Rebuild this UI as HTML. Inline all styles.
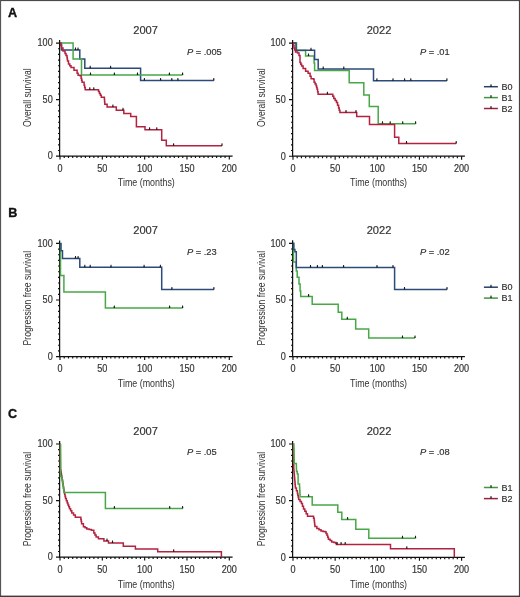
<!DOCTYPE html>
<html><head><meta charset="utf-8"><style>
html,body{margin:0;padding:0;background:#fff;}
body{width:520px;height:597px;overflow:hidden;position:relative;}
svg{position:absolute;left:0;top:0;will-change:transform;}
text{font-family:"Liberation Sans",sans-serif;fill:#333333;stroke:#333333;stroke-width:0.18px;}
.tk{font-size:10.0px;}
.ti{font-size:11.1px;}
.pv{font-size:9.3px;}
.al{font-size:10.5px;stroke:none;}
.lg{font-size:9px;}
.lt{font-size:12.6px;font-weight:bold;fill:#111;stroke:#111;stroke-width:0.35px;}
</style></head><body>
<svg width="520" height="597" viewBox="0 0 520 597">
<rect x="0" y="0" width="520" height="597" fill="#fff"/><rect x="0" y="0" width="520" height="1.1" fill="#4a4a4a"/><rect x="0" y="0" width="1.1" height="597" fill="#555"/><rect x="518.9" y="0" width="1.1" height="597" fill="#444"/><rect x="0" y="595.6" width="520" height="1.4" fill="#3c3c3c"/>
<path d="M59.60 40.10V156.10H232.60" fill="none" stroke="#111111" stroke-width="1.25"/>
<path d="M56.00 156.10H60.00M58.00 150.45H60.00M58.00 144.80H60.00M58.00 139.15H60.00M58.00 133.50H60.00M58.00 127.85H60.00M58.00 122.20H60.00M58.00 116.55H60.00M58.00 110.90H60.00M58.00 105.25H60.00M56.00 99.60H60.00M58.00 93.95H60.00M58.00 88.30H60.00M58.00 82.65H60.00M58.00 77.00H60.00M58.00 71.35H60.00M58.00 65.70H60.00M58.00 60.05H60.00M58.00 54.40H60.00M58.00 48.75H60.00M56.00 43.10H60.00M60.00 156.10V159.60M64.23 156.10V158.10M68.47 156.10V158.10M72.70 156.10V158.10M76.93 156.10V158.10M81.16 156.10V158.10M85.39 156.10V158.10M89.63 156.10V158.10M93.86 156.10V158.10M98.09 156.10V158.10M102.33 156.10V159.60M106.56 156.10V158.10M110.79 156.10V158.10M115.02 156.10V158.10M119.25 156.10V158.10M123.49 156.10V158.10M127.72 156.10V158.10M131.95 156.10V158.10M136.19 156.10V158.10M140.42 156.10V158.10M144.65 156.10V159.60M148.88 156.10V158.10M153.12 156.10V158.10M157.35 156.10V158.10M161.58 156.10V158.10M165.81 156.10V158.10M170.05 156.10V158.10M174.28 156.10V158.10M178.51 156.10V158.10M182.74 156.10V158.10M186.98 156.10V159.60M191.21 156.10V158.10M195.44 156.10V158.10M199.67 156.10V158.10M203.91 156.10V158.10M208.14 156.10V158.10M212.37 156.10V158.10M216.60 156.10V158.10M220.84 156.10V158.10M225.07 156.10V158.10M229.30 156.10V159.60" fill="none" stroke="#111111" stroke-width="1.15"/>
<text x="52.70" y="46.40" text-anchor="end" textLength="15.15" lengthAdjust="spacingAndGlyphs" class="tk">100</text>
<text x="52.70" y="102.90" text-anchor="end" textLength="10.10" lengthAdjust="spacingAndGlyphs" class="tk">50</text>
<text x="52.70" y="159.40" text-anchor="end" textLength="5.05" lengthAdjust="spacingAndGlyphs" class="tk">0</text>
<text x="60.00" y="171.50" text-anchor="middle" textLength="5.05" lengthAdjust="spacingAndGlyphs" class="tk">0</text>
<text x="102.33" y="171.50" text-anchor="middle" textLength="10.10" lengthAdjust="spacingAndGlyphs" class="tk">50</text>
<text x="144.65" y="171.50" text-anchor="middle" textLength="15.15" lengthAdjust="spacingAndGlyphs" class="tk">100</text>
<text x="186.98" y="171.50" text-anchor="middle" textLength="15.15" lengthAdjust="spacingAndGlyphs" class="tk">150</text>
<text x="229.30" y="171.50" text-anchor="middle" textLength="15.15" lengthAdjust="spacingAndGlyphs" class="tk">200</text>
<path d="M292.60 40.10V156.20H464.90" fill="none" stroke="#111111" stroke-width="1.25"/>
<path d="M289.00 156.20H293.00M291.00 150.54H293.00M291.00 144.89H293.00M291.00 139.23H293.00M291.00 133.58H293.00M291.00 127.92H293.00M291.00 122.27H293.00M291.00 116.61H293.00M291.00 110.96H293.00M291.00 105.30H293.00M289.00 99.65H293.00M291.00 93.99H293.00M291.00 88.34H293.00M291.00 82.68H293.00M291.00 77.03H293.00M291.00 71.37H293.00M291.00 65.72H293.00M291.00 60.06H293.00M291.00 54.41H293.00M291.00 48.75H293.00M289.00 43.10H293.00M293.00 156.20V159.70M297.21 156.20V158.20M301.43 156.20V158.20M305.64 156.20V158.20M309.86 156.20V158.20M314.07 156.20V158.20M318.29 156.20V158.20M322.50 156.20V158.20M326.72 156.20V158.20M330.94 156.20V158.20M335.15 156.20V159.70M339.37 156.20V158.20M343.58 156.20V158.20M347.80 156.20V158.20M352.01 156.20V158.20M356.23 156.20V158.20M360.44 156.20V158.20M364.65 156.20V158.20M368.87 156.20V158.20M373.09 156.20V158.20M377.30 156.20V159.70M381.51 156.20V158.20M385.73 156.20V158.20M389.94 156.20V158.20M394.16 156.20V158.20M398.38 156.20V158.20M402.59 156.20V158.20M406.81 156.20V158.20M411.02 156.20V158.20M415.24 156.20V158.20M419.45 156.20V159.70M423.67 156.20V158.20M427.88 156.20V158.20M432.10 156.20V158.20M436.31 156.20V158.20M440.52 156.20V158.20M444.74 156.20V158.20M448.96 156.20V158.20M453.17 156.20V158.20M457.38 156.20V158.20M461.60 156.20V159.70" fill="none" stroke="#111111" stroke-width="1.15"/>
<text x="285.70" y="46.40" text-anchor="end" textLength="15.15" lengthAdjust="spacingAndGlyphs" class="tk">100</text>
<text x="285.70" y="102.95" text-anchor="end" textLength="10.10" lengthAdjust="spacingAndGlyphs" class="tk">50</text>
<text x="285.70" y="159.50" text-anchor="end" textLength="5.05" lengthAdjust="spacingAndGlyphs" class="tk">0</text>
<text x="293.00" y="171.60" text-anchor="middle" textLength="5.05" lengthAdjust="spacingAndGlyphs" class="tk">0</text>
<text x="335.15" y="171.60" text-anchor="middle" textLength="10.10" lengthAdjust="spacingAndGlyphs" class="tk">50</text>
<text x="377.30" y="171.60" text-anchor="middle" textLength="15.15" lengthAdjust="spacingAndGlyphs" class="tk">100</text>
<text x="419.45" y="171.60" text-anchor="middle" textLength="15.15" lengthAdjust="spacingAndGlyphs" class="tk">150</text>
<text x="461.60" y="171.60" text-anchor="middle" textLength="15.15" lengthAdjust="spacingAndGlyphs" class="tk">200</text>
<path d="M59.60 240.40V356.60H232.60" fill="none" stroke="#111111" stroke-width="1.25"/>
<path d="M56.00 356.60H60.00M58.00 350.94H60.00M58.00 345.28H60.00M58.00 339.62H60.00M58.00 333.96H60.00M58.00 328.30H60.00M58.00 322.64H60.00M58.00 316.98H60.00M58.00 311.32H60.00M58.00 305.66H60.00M56.00 300.00H60.00M58.00 294.34H60.00M58.00 288.68H60.00M58.00 283.02H60.00M58.00 277.36H60.00M58.00 271.70H60.00M58.00 266.04H60.00M58.00 260.38H60.00M58.00 254.72H60.00M58.00 249.06H60.00M56.00 243.40H60.00M60.00 356.60V360.10M64.23 356.60V358.60M68.47 356.60V358.60M72.70 356.60V358.60M76.93 356.60V358.60M81.16 356.60V358.60M85.39 356.60V358.60M89.63 356.60V358.60M93.86 356.60V358.60M98.09 356.60V358.60M102.33 356.60V360.10M106.56 356.60V358.60M110.79 356.60V358.60M115.02 356.60V358.60M119.25 356.60V358.60M123.49 356.60V358.60M127.72 356.60V358.60M131.95 356.60V358.60M136.19 356.60V358.60M140.42 356.60V358.60M144.65 356.60V360.10M148.88 356.60V358.60M153.12 356.60V358.60M157.35 356.60V358.60M161.58 356.60V358.60M165.81 356.60V358.60M170.05 356.60V358.60M174.28 356.60V358.60M178.51 356.60V358.60M182.74 356.60V358.60M186.98 356.60V360.10M191.21 356.60V358.60M195.44 356.60V358.60M199.67 356.60V358.60M203.91 356.60V358.60M208.14 356.60V358.60M212.37 356.60V358.60M216.60 356.60V358.60M220.84 356.60V358.60M225.07 356.60V358.60M229.30 356.60V360.10" fill="none" stroke="#111111" stroke-width="1.15"/>
<text x="52.70" y="246.70" text-anchor="end" textLength="15.15" lengthAdjust="spacingAndGlyphs" class="tk">100</text>
<text x="52.70" y="303.30" text-anchor="end" textLength="10.10" lengthAdjust="spacingAndGlyphs" class="tk">50</text>
<text x="52.70" y="359.90" text-anchor="end" textLength="5.05" lengthAdjust="spacingAndGlyphs" class="tk">0</text>
<text x="60.00" y="372.00" text-anchor="middle" textLength="5.05" lengthAdjust="spacingAndGlyphs" class="tk">0</text>
<text x="102.33" y="372.00" text-anchor="middle" textLength="10.10" lengthAdjust="spacingAndGlyphs" class="tk">50</text>
<text x="144.65" y="372.00" text-anchor="middle" textLength="15.15" lengthAdjust="spacingAndGlyphs" class="tk">100</text>
<text x="186.98" y="372.00" text-anchor="middle" textLength="15.15" lengthAdjust="spacingAndGlyphs" class="tk">150</text>
<text x="229.30" y="372.00" text-anchor="middle" textLength="15.15" lengthAdjust="spacingAndGlyphs" class="tk">200</text>
<path d="M292.60 240.30V356.60H464.90" fill="none" stroke="#111111" stroke-width="1.25"/>
<path d="M289.00 356.60H293.00M291.00 350.94H293.00M291.00 345.27H293.00M291.00 339.61H293.00M291.00 333.94H293.00M291.00 328.28H293.00M291.00 322.61H293.00M291.00 316.95H293.00M291.00 311.28H293.00M291.00 305.62H293.00M289.00 299.95H293.00M291.00 294.29H293.00M291.00 288.62H293.00M291.00 282.96H293.00M291.00 277.29H293.00M291.00 271.62H293.00M291.00 265.96H293.00M291.00 260.30H293.00M291.00 254.63H293.00M291.00 248.97H293.00M289.00 243.30H293.00M293.00 356.60V360.10M297.21 356.60V358.60M301.43 356.60V358.60M305.64 356.60V358.60M309.86 356.60V358.60M314.07 356.60V358.60M318.29 356.60V358.60M322.50 356.60V358.60M326.72 356.60V358.60M330.94 356.60V358.60M335.15 356.60V360.10M339.37 356.60V358.60M343.58 356.60V358.60M347.80 356.60V358.60M352.01 356.60V358.60M356.23 356.60V358.60M360.44 356.60V358.60M364.65 356.60V358.60M368.87 356.60V358.60M373.09 356.60V358.60M377.30 356.60V360.10M381.51 356.60V358.60M385.73 356.60V358.60M389.94 356.60V358.60M394.16 356.60V358.60M398.38 356.60V358.60M402.59 356.60V358.60M406.81 356.60V358.60M411.02 356.60V358.60M415.24 356.60V358.60M419.45 356.60V360.10M423.67 356.60V358.60M427.88 356.60V358.60M432.10 356.60V358.60M436.31 356.60V358.60M440.52 356.60V358.60M444.74 356.60V358.60M448.96 356.60V358.60M453.17 356.60V358.60M457.38 356.60V358.60M461.60 356.60V360.10" fill="none" stroke="#111111" stroke-width="1.15"/>
<text x="285.70" y="246.60" text-anchor="end" textLength="15.15" lengthAdjust="spacingAndGlyphs" class="tk">100</text>
<text x="285.70" y="303.25" text-anchor="end" textLength="10.10" lengthAdjust="spacingAndGlyphs" class="tk">50</text>
<text x="285.70" y="359.90" text-anchor="end" textLength="5.05" lengthAdjust="spacingAndGlyphs" class="tk">0</text>
<text x="293.00" y="372.00" text-anchor="middle" textLength="5.05" lengthAdjust="spacingAndGlyphs" class="tk">0</text>
<text x="335.15" y="372.00" text-anchor="middle" textLength="10.10" lengthAdjust="spacingAndGlyphs" class="tk">50</text>
<text x="377.30" y="372.00" text-anchor="middle" textLength="15.15" lengthAdjust="spacingAndGlyphs" class="tk">100</text>
<text x="419.45" y="372.00" text-anchor="middle" textLength="15.15" lengthAdjust="spacingAndGlyphs" class="tk">150</text>
<text x="461.60" y="372.00" text-anchor="middle" textLength="15.15" lengthAdjust="spacingAndGlyphs" class="tk">200</text>
<path d="M59.60 441.00V557.10H232.60" fill="none" stroke="#111111" stroke-width="1.25"/>
<path d="M56.00 557.10H60.00M58.00 551.45H60.00M58.00 545.79H60.00M58.00 540.13H60.00M58.00 534.48H60.00M58.00 528.83H60.00M58.00 523.17H60.00M58.00 517.51H60.00M58.00 511.86H60.00M58.00 506.21H60.00M56.00 500.55H60.00M58.00 494.89H60.00M58.00 489.24H60.00M58.00 483.59H60.00M58.00 477.93H60.00M58.00 472.27H60.00M58.00 466.62H60.00M58.00 460.97H60.00M58.00 455.31H60.00M58.00 449.65H60.00M56.00 444.00H60.00M60.00 557.10V560.60M64.23 557.10V559.10M68.47 557.10V559.10M72.70 557.10V559.10M76.93 557.10V559.10M81.16 557.10V559.10M85.39 557.10V559.10M89.63 557.10V559.10M93.86 557.10V559.10M98.09 557.10V559.10M102.33 557.10V560.60M106.56 557.10V559.10M110.79 557.10V559.10M115.02 557.10V559.10M119.25 557.10V559.10M123.49 557.10V559.10M127.72 557.10V559.10M131.95 557.10V559.10M136.19 557.10V559.10M140.42 557.10V559.10M144.65 557.10V560.60M148.88 557.10V559.10M153.12 557.10V559.10M157.35 557.10V559.10M161.58 557.10V559.10M165.81 557.10V559.10M170.05 557.10V559.10M174.28 557.10V559.10M178.51 557.10V559.10M182.74 557.10V559.10M186.98 557.10V560.60M191.21 557.10V559.10M195.44 557.10V559.10M199.67 557.10V559.10M203.91 557.10V559.10M208.14 557.10V559.10M212.37 557.10V559.10M216.60 557.10V559.10M220.84 557.10V559.10M225.07 557.10V559.10M229.30 557.10V560.60" fill="none" stroke="#111111" stroke-width="1.15"/>
<text x="52.70" y="447.30" text-anchor="end" textLength="15.15" lengthAdjust="spacingAndGlyphs" class="tk">100</text>
<text x="52.70" y="503.85" text-anchor="end" textLength="10.10" lengthAdjust="spacingAndGlyphs" class="tk">50</text>
<text x="52.70" y="560.40" text-anchor="end" textLength="5.05" lengthAdjust="spacingAndGlyphs" class="tk">0</text>
<text x="60.00" y="572.50" text-anchor="middle" textLength="5.05" lengthAdjust="spacingAndGlyphs" class="tk">0</text>
<text x="102.33" y="572.50" text-anchor="middle" textLength="10.10" lengthAdjust="spacingAndGlyphs" class="tk">50</text>
<text x="144.65" y="572.50" text-anchor="middle" textLength="15.15" lengthAdjust="spacingAndGlyphs" class="tk">100</text>
<text x="186.98" y="572.50" text-anchor="middle" textLength="15.15" lengthAdjust="spacingAndGlyphs" class="tk">150</text>
<text x="229.30" y="572.50" text-anchor="middle" textLength="15.15" lengthAdjust="spacingAndGlyphs" class="tk">200</text>
<path d="M292.60 441.00V557.30H464.90" fill="none" stroke="#111111" stroke-width="1.25"/>
<path d="M289.00 557.30H293.00M291.00 551.63H293.00M291.00 545.97H293.00M291.00 540.30H293.00M291.00 534.64H293.00M291.00 528.97H293.00M291.00 523.31H293.00M291.00 517.64H293.00M291.00 511.98H293.00M291.00 506.31H293.00M289.00 500.65H293.00M291.00 494.98H293.00M291.00 489.32H293.00M291.00 483.65H293.00M291.00 477.99H293.00M291.00 472.32H293.00M291.00 466.66H293.00M291.00 461.00H293.00M291.00 455.33H293.00M291.00 449.66H293.00M289.00 444.00H293.00M293.00 557.30V560.80M297.21 557.30V559.30M301.43 557.30V559.30M305.64 557.30V559.30M309.86 557.30V559.30M314.07 557.30V559.30M318.29 557.30V559.30M322.50 557.30V559.30M326.72 557.30V559.30M330.94 557.30V559.30M335.15 557.30V560.80M339.37 557.30V559.30M343.58 557.30V559.30M347.80 557.30V559.30M352.01 557.30V559.30M356.23 557.30V559.30M360.44 557.30V559.30M364.65 557.30V559.30M368.87 557.30V559.30M373.09 557.30V559.30M377.30 557.30V560.80M381.51 557.30V559.30M385.73 557.30V559.30M389.94 557.30V559.30M394.16 557.30V559.30M398.38 557.30V559.30M402.59 557.30V559.30M406.81 557.30V559.30M411.02 557.30V559.30M415.24 557.30V559.30M419.45 557.30V560.80M423.67 557.30V559.30M427.88 557.30V559.30M432.10 557.30V559.30M436.31 557.30V559.30M440.52 557.30V559.30M444.74 557.30V559.30M448.96 557.30V559.30M453.17 557.30V559.30M457.38 557.30V559.30M461.60 557.30V560.80" fill="none" stroke="#111111" stroke-width="1.15"/>
<text x="285.70" y="447.30" text-anchor="end" textLength="15.15" lengthAdjust="spacingAndGlyphs" class="tk">100</text>
<text x="285.70" y="503.95" text-anchor="end" textLength="10.10" lengthAdjust="spacingAndGlyphs" class="tk">50</text>
<text x="285.70" y="560.60" text-anchor="end" textLength="5.05" lengthAdjust="spacingAndGlyphs" class="tk">0</text>
<text x="293.00" y="572.70" text-anchor="middle" textLength="5.05" lengthAdjust="spacingAndGlyphs" class="tk">0</text>
<text x="335.15" y="572.70" text-anchor="middle" textLength="10.10" lengthAdjust="spacingAndGlyphs" class="tk">50</text>
<text x="377.30" y="572.70" text-anchor="middle" textLength="15.15" lengthAdjust="spacingAndGlyphs" class="tk">100</text>
<text x="419.45" y="572.70" text-anchor="middle" textLength="15.15" lengthAdjust="spacingAndGlyphs" class="tk">150</text>
<text x="461.60" y="572.70" text-anchor="middle" textLength="15.15" lengthAdjust="spacingAndGlyphs" class="tk">200</text>
<path d="M60.00 43.10 L61.50 43.10 L61.50 50.10 L79.80 50.10 L79.80 59.10 L84.80 59.10 L84.80 68.20 L140.60 68.20 L140.60 80.50 L213.80 80.50 L213.80 80.50" fill="none" stroke="#2c4b7a" stroke-width="1.5" stroke-linejoin="miter"/>
<path d="M74.75 50.10L75.05 47.60H75.95L76.25 50.10ZM77.25 50.10L77.55 47.60H78.45L78.75 50.10ZM89.45 68.20L89.75 65.70H90.65L90.95 68.20ZM109.85 68.20L110.15 65.70H111.05L111.35 68.20ZM143.65 80.50L143.95 78.00H144.85L145.15 80.50ZM159.85 80.50L160.15 78.00H161.05L161.35 80.50ZM171.05 80.50L171.35 78.00H172.25L172.55 80.50ZM177.15 80.50L177.45 78.00H178.35L178.65 80.50ZM213.05 80.50L213.35 78.00H214.25L214.55 80.50Z" fill="#1a1a1a" stroke="none"/>
<path d="M60.00 43.10 L73.10 43.10 L73.10 59.10 L81.50 59.10 L81.50 74.90 L182.60 74.90 L182.60 74.90" fill="none" stroke="#48a848" stroke-width="1.5" stroke-linejoin="miter"/>
<path d="M89.75 74.90L90.05 72.40H90.95L91.25 74.90ZM113.65 74.90L113.95 72.40H114.85L115.15 74.90ZM136.75 74.90L137.05 72.40H137.95L138.25 74.90ZM168.65 74.90L168.95 72.40H169.85L170.15 74.90ZM181.85 74.90L182.15 72.40H183.05L183.35 74.90Z" fill="#1a1a1a" stroke="none"/>
<path d="M60.00 43.10 L60.75 43.10 L60.75 45.55 L61.50 45.55 L61.50 48.00 L63.00 48.00 L63.00 51.00 L65.00 51.00 L65.00 53.60 L66.00 53.60 L66.00 55.60 L67.00 55.60 L67.00 57.60 L67.25 57.60 L67.25 59.35 L67.50 59.35 L67.50 61.10 L68.50 61.10 L68.50 64.10 L69.75 64.10 L69.75 65.85 L71.00 65.85 L71.00 67.60 L74.00 67.60 L74.00 70.20 L77.10 70.20 L77.10 73.20 L78.10 73.20 L78.10 75.20 L80.10 75.20 L80.10 75.70 L81.10 75.70 L81.10 78.20 L81.60 78.20 L81.60 80.20 L82.10 80.20 L82.10 82.20 L84.10 82.20 L84.10 85.20 L84.65 85.20 L84.65 87.50 L85.20 87.50 L85.20 89.80 L98.50 89.80 L98.50 91.50 L99.43 91.50 L99.43 93.43 L100.37 93.43 L100.37 95.37 L101.30 95.37 L101.30 97.30 L104.20 97.30 L104.40 97.30 L104.40 99.60 L104.60 99.60 L104.60 101.90 L104.80 101.90 L104.80 104.20 L107.10 104.20 L107.10 107.10 L116.30 107.10 L116.30 110.20 L123.80 110.20 L123.80 113.40 L130.70 113.40 L130.70 116.60 L136.40 116.60 L136.40 126.70 L145.00 126.70 L145.00 129.80 L161.70 129.80 L161.70 140.20 L166.30 140.20 L166.30 145.80 L222.00 145.80 L222.00 145.80" fill="none" stroke="#b3223f" stroke-width="1.5" stroke-linejoin="miter"/>
<path d="M89.05 89.80L89.35 87.30H90.25L90.55 89.80ZM93.05 89.80L93.35 87.30H94.25L94.55 89.80ZM112.15 107.10L112.45 104.60H113.35L113.65 107.10ZM122.25 110.20L122.55 107.70H123.45L123.75 110.20ZM148.85 129.80L149.15 127.30H150.05L150.35 129.80ZM156.05 129.80L156.35 127.30H157.25L157.55 129.80ZM172.85 145.80L173.15 143.30H174.05L174.35 145.80ZM221.25 145.80L221.55 143.30H222.45L222.75 145.80Z" fill="#1a1a1a" stroke="none"/>
<path d="M293.00 43.10 L296.50 43.10 L296.50 50.60 L305.60 50.60 L305.60 56.10 L314.10 56.10 L314.10 63.00 L314.60 63.00 L314.60 70.60 L349.20 70.60 L349.20 82.70 L363.80 82.70 L363.80 95.00 L369.30 95.00 L369.30 106.60 L378.20 106.60 L378.20 123.80 L415.60 123.80 L415.60 123.80" fill="none" stroke="#48a848" stroke-width="1.5" stroke-linejoin="miter"/>
<path d="M307.75 56.10L308.05 53.60H308.95L309.25 56.10ZM381.75 123.80L382.05 121.30H382.95L383.25 123.80ZM389.45 123.80L389.75 121.30H390.65L390.95 123.80ZM401.95 123.80L402.25 121.30H403.15L403.45 123.80ZM414.85 123.80L415.15 121.30H416.05L416.35 123.80Z" fill="#1a1a1a" stroke="none"/>
<path d="M293.00 43.10 L296.00 43.10 L296.00 50.30 L314.60 50.30 L314.60 59.60 L318.20 59.60 L318.20 69.00 L373.50 69.00 L373.50 80.70 L446.90 80.70 L446.90 80.70" fill="none" stroke="#2c4b7a" stroke-width="1.5" stroke-linejoin="miter"/>
<path d="M310.25 50.30L310.55 47.80H311.45L311.75 50.30ZM322.45 69.00L322.75 66.50H323.65L323.95 69.00ZM343.05 69.00L343.35 66.50H344.25L344.55 69.00ZM376.15 80.70L376.45 78.20H377.35L377.65 80.70ZM392.25 80.70L392.55 78.20H393.45L393.75 80.70ZM403.85 80.70L404.15 78.20H405.05L405.35 80.70ZM410.05 80.70L410.35 78.20H411.25L411.55 80.70ZM446.15 80.70L446.45 78.20H447.35L447.65 80.70Z" fill="#1a1a1a" stroke="none"/>
<path d="M293.00 43.10 L293.50 43.10 L293.50 45.55 L294.00 45.55 L294.00 48.00 L294.75 48.00 L294.75 50.00 L295.50 50.00 L295.50 52.00 L297.50 52.00 L297.50 53.00 L299.00 53.00 L299.00 55.60 L300.00 55.60 L300.00 58.10 L300.00 62.60 L300.80 62.60 L300.80 64.35 L301.60 64.35 L301.60 66.10 L303.10 66.10 L303.10 68.60 L305.60 68.60 L305.60 71.20 L308.10 71.20 L308.10 73.20 L310.10 73.20 L310.10 76.20 L311.10 76.20 L311.10 78.70 L313.60 78.70 L313.60 79.20 L314.10 79.20 L314.10 82.20 L315.10 82.20 L315.10 83.95 L316.10 83.95 L316.10 85.70 L316.60 85.70 L316.60 87.45 L317.10 87.45 L317.10 89.20 L317.60 89.20 L317.60 91.70 L318.10 91.70 L318.10 94.20 L331.80 94.20 L332.80 94.20 L332.80 96.35 L333.80 96.35 L333.80 98.50 L335.15 98.50 L335.15 100.50 L336.50 100.50 L336.50 102.50 L337.55 102.50 L337.55 105.20 L338.60 105.20 L338.60 107.90 L339.25 107.90 L339.25 110.25 L339.90 110.25 L339.90 112.60 L356.70 112.60 L356.70 116.60 L369.50 116.60 L369.50 124.50 L394.60 124.50 L394.60 137.30 L398.80 137.30 L398.80 143.50 L456.20 143.50 L456.20 143.50" fill="none" stroke="#b3223f" stroke-width="1.5" stroke-linejoin="miter"/>
<path d="M326.65 94.20L326.95 91.70H327.85L328.15 94.20ZM345.25 112.60L345.55 110.10H346.45L346.75 112.60ZM355.25 112.60L355.55 110.10H356.45L356.75 112.60ZM405.75 143.50L406.05 141.00H406.95L407.25 143.50ZM455.45 143.50L455.75 141.00H456.65L456.95 143.50Z" fill="#1a1a1a" stroke="none"/>
<path d="M60.50 243.40 L60.50 243.40 L60.50 275.50 L63.90 275.50 L63.90 292.00 L105.40 292.00 L105.40 308.10 L182.60 308.10 L182.60 308.10" fill="none" stroke="#48a848" stroke-width="1.5" stroke-linejoin="miter"/>
<path d="M113.55 308.10L113.85 305.60H114.75L115.05 308.10ZM168.85 308.10L169.15 305.60H170.05L170.35 308.10ZM181.85 308.10L182.15 305.60H183.05L183.35 308.10Z" fill="#1a1a1a" stroke="none"/>
<path d="M60.00 243.40 L61.00 243.40 L61.00 250.70 L62.50 250.70 L62.50 258.40 L79.80 258.40 L79.80 267.30 L161.70 267.30 L161.70 289.50 L213.90 289.50 L213.90 289.50" fill="none" stroke="#2c4b7a" stroke-width="1.5" stroke-linejoin="miter"/>
<path d="M74.75 258.40L75.05 255.90H75.95L76.25 258.40ZM77.35 258.40L77.65 255.90H78.55L78.85 258.40ZM84.05 267.30L84.35 264.80H85.25L85.55 267.30ZM89.45 267.30L89.75 264.80H90.65L90.95 267.30ZM110.25 267.30L110.55 264.80H111.45L111.75 267.30ZM143.35 267.30L143.65 264.80H144.55L144.85 267.30ZM159.65 267.30L159.95 264.80H160.85L161.15 267.30ZM171.15 289.50L171.45 287.00H172.35L172.65 289.50ZM213.15 289.50L213.45 287.00H214.35L214.65 289.50Z" fill="#1a1a1a" stroke="none"/>
<path d="M293.50 243.30 L293.50 243.30 L293.50 262.00 L296.30 262.00 L296.30 270.90 L297.20 270.90 L297.20 277.20 L299.00 277.20 L299.00 284.10 L300.10 284.10 L300.10 291.00 L300.70 291.00 L300.70 296.50 L312.20 296.50 L312.20 304.30 L338.20 304.30 L338.20 312.20 L341.80 312.20 L341.80 319.30 L355.70 319.30 L355.70 329.00 L368.70 329.00 L368.70 338.10 L415.00 338.10 L415.00 338.10" fill="none" stroke="#48a848" stroke-width="1.5" stroke-linejoin="miter"/>
<path d="M307.85 296.50L308.15 294.00H309.05L309.35 296.50ZM346.55 319.30L346.85 316.80H347.75L348.05 319.30ZM401.75 338.10L402.05 335.60H402.95L403.25 338.10ZM414.25 338.10L414.55 335.60H415.45L415.75 338.10Z" fill="#1a1a1a" stroke="none"/>
<path d="M293.00 243.30 L293.80 243.30 L293.80 249.50 L294.90 249.50 L294.90 251.80 L296.30 251.80 L296.30 267.60 L394.60 267.60 L394.60 289.50 L447.00 289.50 L447.00 289.50" fill="none" stroke="#2c4b7a" stroke-width="1.5" stroke-linejoin="miter"/>
<path d="M309.75 267.60L310.05 265.10H310.95L311.25 267.60ZM316.65 267.60L316.95 265.10H317.85L318.15 267.60ZM321.65 267.60L321.95 265.10H322.85L323.15 267.60ZM342.85 267.60L343.15 265.10H344.05L344.35 267.60ZM376.25 267.60L376.55 265.10H377.45L377.75 267.60ZM392.25 267.60L392.55 265.10H393.45L393.75 267.60ZM403.75 289.50L404.05 287.00H404.95L405.25 289.50ZM446.25 289.50L446.55 287.00H447.45L447.75 289.50Z" fill="#1a1a1a" stroke="none"/>
<path d="M60.30 444.00 L60.32 444.00 L60.32 446.17 L60.35 446.17 L60.35 448.33 L60.38 448.33 L60.38 450.50 L60.40 450.50 L60.40 452.67 L60.42 452.67 L60.42 454.83 L60.45 454.83 L60.45 457.00 L60.48 457.00 L60.48 459.17 L60.50 459.17 L60.50 461.33 L60.52 461.33 L60.52 463.50 L60.55 463.50 L60.55 465.67 L60.58 465.67 L60.58 467.83 L60.60 467.83 L60.60 470.00 L60.90 470.00 L60.90 472.00 L61.20 472.00 L61.20 474.00 L61.50 474.00 L61.50 476.00 L61.87 476.00 L61.87 478.00 L62.23 478.00 L62.23 480.00 L62.60 480.00 L62.60 482.00 L62.90 482.00 L62.90 484.10 L63.20 484.10 L63.20 486.20 L63.50 486.20 L63.50 488.30 L63.80 488.30 L63.80 490.40 L64.22 490.40 L64.22 492.42 L64.65 492.42 L64.65 494.45 L65.08 494.45 L65.08 496.48 L65.50 496.48 L65.50 498.50 L66.35 498.50 L66.35 500.75 L67.20 500.75 L67.20 503.00 L67.97 503.00 L67.97 504.93 L68.73 504.93 L68.73 506.87 L69.50 506.87 L69.50 508.80 L70.65 508.80 L70.65 510.85 L71.80 510.85 L71.80 512.90 L73.55 512.90 L73.55 515.05 L75.30 515.05 L75.30 517.20 L80.50 517.20 L80.87 517.20 L80.87 519.40 L81.23 519.40 L81.23 521.60 L81.60 521.60 L81.60 523.80 L83.40 523.80 L83.40 526.70 L85.10 526.70 L85.10 527.85 L86.80 527.85 L86.80 529.00 L89.10 529.00 L89.10 529.60 L91.40 529.60 L91.40 530.20 L93.80 530.20 L93.80 533.00 L94.95 533.00 L94.95 535.05 L96.10 535.05 L96.10 537.10 L98.40 537.10 L98.40 538.80 L103.90 538.80 L103.90 540.90 L108.50 540.90 L108.50 543.10 L123.30 543.10 L123.30 546.20 L135.40 546.20 L135.40 548.90 L157.70 548.90 L157.70 551.80 L221.40 551.80 L221.40 557.10" fill="none" stroke="#b3223f" stroke-width="1.5" stroke-linejoin="miter"/>
<path d="M106.25 540.90L106.55 538.40H107.45L107.75 540.90ZM111.75 543.10L112.05 540.60H112.95L113.25 543.10ZM172.95 551.80L173.25 549.30H174.15L174.45 551.80Z" fill="#1a1a1a" stroke="none"/>
<path d="M60.50 444.00 L60.50 476.40 L61.50 476.40 L61.86 476.40 L61.86 478.69 L62.21 478.69 L62.21 480.97 L62.57 480.97 L62.57 483.26 L62.93 483.26 L62.93 485.54 L63.29 485.54 L63.29 487.83 L63.64 487.83 L63.64 490.11 L64.00 490.11 L64.00 492.40 L105.40 492.40 L105.40 508.40 L182.60 508.40" fill="none" stroke="#48a848" stroke-width="1.5" stroke-linejoin="miter"/>
<path d="M113.65 508.40L113.95 505.90H114.85L115.15 508.40ZM168.95 508.40L169.25 505.90H170.15L170.45 508.40ZM181.85 508.40L182.15 505.90H183.05L183.35 508.40Z" fill="#1a1a1a" stroke="none"/>
<path d="M293.30 444.00 L293.34 444.00 L293.34 446.17 L293.38 446.17 L293.38 448.33 L293.43 448.33 L293.43 450.50 L293.47 450.50 L293.47 452.67 L293.51 452.67 L293.51 454.83 L293.55 454.83 L293.55 457.00 L293.59 457.00 L293.59 459.17 L293.63 459.17 L293.63 461.33 L293.68 461.33 L293.68 463.50 L293.72 463.50 L293.72 465.67 L293.76 465.67 L293.76 467.83 L293.80 467.83 L293.80 470.00 L293.98 470.00 L293.98 472.00 L294.16 472.00 L294.16 474.00 L294.34 474.00 L294.34 476.00 L294.52 476.00 L294.52 478.00 L294.70 478.00 L294.70 480.00 L294.88 480.00 L294.88 482.02 L295.05 482.02 L295.05 484.05 L295.22 484.05 L295.22 486.08 L295.40 486.08 L295.40 488.10 L296.40 488.10 L296.40 490.80 L297.40 490.80 L297.40 493.50 L297.83 493.50 L297.83 495.50 L298.27 495.50 L298.27 497.50 L298.70 497.50 L298.70 499.50 L300.05 499.50 L300.05 501.55 L301.40 501.55 L301.40 503.60 L302.45 503.60 L302.45 506.25 L303.50 506.25 L303.50 508.90 L304.83 508.90 L304.83 511.37 L306.17 511.37 L306.17 513.83 L307.50 513.83 L307.50 516.30 L312.90 516.30 L313.55 516.30 L313.55 518.35 L314.20 518.35 L314.20 520.40 L314.43 520.40 L314.43 522.40 L314.67 522.40 L314.67 524.40 L314.90 524.40 L314.90 526.40 L316.90 526.40 L316.90 528.50 L318.95 528.50 L318.95 529.80 L321.00 529.80 L321.00 531.10 L323.00 531.10 L323.00 531.45 L325.00 531.45 L325.00 531.80 L326.00 531.80 L326.00 533.50 L327.00 533.50 L327.00 535.20 L327.70 535.20 L327.70 537.20 L328.40 537.20 L328.40 539.20 L330.05 539.20 L330.05 540.55 L331.70 540.55 L331.70 541.90 L333.75 541.90 L333.75 542.60 L335.80 542.60 L335.80 543.30 L336.40 543.30 L336.40 544.60 L390.50 544.60 L390.50 548.80 L454.30 548.80 L454.30 557.30" fill="none" stroke="#b3223f" stroke-width="1.5" stroke-linejoin="miter"/>
<path d="M336.35 544.60L336.65 542.10H337.55L337.85 544.60ZM340.35 544.60L340.65 542.10H341.55L341.85 544.60ZM344.45 544.60L344.75 542.10H345.65L345.95 544.60ZM406.05 548.80L406.35 546.30H407.25L407.55 548.80Z" fill="#1a1a1a" stroke="none"/>
<path d="M293.80 444.00 L293.84 444.00 L293.84 446.16 L293.89 446.16 L293.89 448.31 L293.93 448.31 L293.93 450.47 L293.98 450.47 L293.98 452.62 L294.02 452.62 L294.02 454.78 L294.07 454.78 L294.07 456.93 L294.11 456.93 L294.11 459.09 L294.16 459.09 L294.16 461.24 L294.20 461.24 L294.20 463.40 L296.30 463.40 L296.35 463.40 L296.35 465.40 L296.40 465.40 L296.40 467.40 L296.45 467.40 L296.45 469.40 L296.50 469.40 L296.50 471.40 L297.30 471.40 L297.30 474.00 L298.10 474.00 L298.10 476.60 L298.10 484.00 L299.40 484.00 L299.52 484.00 L299.52 486.13 L299.63 486.13 L299.63 488.27 L299.75 488.27 L299.75 490.40 L299.87 490.40 L299.87 492.53 L299.98 492.53 L299.98 494.67 L300.10 494.67 L300.10 496.80 L312.20 496.80 L312.20 504.90 L337.80 504.90 L337.80 512.30 L341.80 512.30 L341.80 519.60 L355.80 519.60 L355.80 529.20 L368.80 529.20 L368.80 538.20 L415.50 538.20" fill="none" stroke="#48a848" stroke-width="1.5" stroke-linejoin="miter"/>
<path d="M307.85 496.80L308.15 494.30H309.05L309.35 496.80ZM346.85 519.60L347.15 517.10H348.05L348.35 519.60ZM401.75 538.20L402.05 535.70H402.95L403.25 538.20ZM414.75 538.20L415.05 535.70H415.95L416.25 538.20Z" fill="#1a1a1a" stroke="none"/>
<text x="8.0" y="16.8" class="lt">A</text>
<text x="8.3" y="217.2" class="lt">B</text>
<text x="8.1" y="418.3" class="lt">C</text>
<text x="145.6" y="33.5" text-anchor="middle" class="ti">2007</text>
<text x="379.0" y="33.6" text-anchor="middle" class="ti">2022</text>
<text x="145.6" y="233.9" text-anchor="middle" class="ti">2007</text>
<text x="379.0" y="233.9" text-anchor="middle" class="ti">2022</text>
<text x="145.6" y="435.2" text-anchor="middle" class="ti">2007</text>
<text x="379.0" y="435.2" text-anchor="middle" class="ti">2022</text>
<text x="186.9" y="54.8" class="pv"><tspan font-style="italic">P</tspan> = .005</text>
<text x="419.9" y="54.8" class="pv"><tspan font-style="italic">P</tspan> = .01</text>
<text x="186.9" y="255.2" class="pv"><tspan font-style="italic">P</tspan> = .23</text>
<text x="419.9" y="255.2" class="pv"><tspan font-style="italic">P</tspan> = .02</text>
<text x="186.9" y="454.9" class="pv"><tspan font-style="italic">P</tspan> = .05</text>
<text x="419.9" y="454.9" class="pv"><tspan font-style="italic">P</tspan> = .08</text>
<text transform="translate(31.2 97.7) rotate(-90)" x="0" y="0" text-anchor="middle" textLength="58.6" lengthAdjust="spacingAndGlyphs" class="al">Overall survival</text>
<text transform="translate(264.8 97.7) rotate(-90)" x="0" y="0" text-anchor="middle" textLength="58.6" lengthAdjust="spacingAndGlyphs" class="al">Overall survival</text>
<text transform="translate(31.2 298.2) rotate(-90)" x="0" y="0" text-anchor="middle" textLength="94.5" lengthAdjust="spacingAndGlyphs" class="al">Progression free survival</text>
<text transform="translate(264.8 298.2) rotate(-90)" x="0" y="0" text-anchor="middle" textLength="94.5" lengthAdjust="spacingAndGlyphs" class="al">Progression free survival</text>
<text transform="translate(31.2 499.0) rotate(-90)" x="0" y="0" text-anchor="middle" textLength="94.5" lengthAdjust="spacingAndGlyphs" class="al">Progression free survival</text>
<text transform="translate(264.8 499.0) rotate(-90)" x="0" y="0" text-anchor="middle" textLength="94.5" lengthAdjust="spacingAndGlyphs" class="al">Progression free survival</text>
<text x="146.3" y="185.9" text-anchor="middle" textLength="57" lengthAdjust="spacingAndGlyphs" class="al">Time (months)</text>
<text x="378.6" y="185.9" text-anchor="middle" textLength="57" lengthAdjust="spacingAndGlyphs" class="al">Time (months)</text>
<text x="146.3" y="387.3" text-anchor="middle" textLength="57" lengthAdjust="spacingAndGlyphs" class="al">Time (months)</text>
<text x="378.6" y="387.3" text-anchor="middle" textLength="57" lengthAdjust="spacingAndGlyphs" class="al">Time (months)</text>
<text x="146.3" y="587.7" text-anchor="middle" textLength="57" lengthAdjust="spacingAndGlyphs" class="al">Time (months)</text>
<text x="378.6" y="587.7" text-anchor="middle" textLength="57" lengthAdjust="spacingAndGlyphs" class="al">Time (months)</text>
<path d="M483.9 86.7H497.9" stroke="#26406a" stroke-width="1.5"/>
<path d="M490.25 86.7L490.55 84.2H491.45L491.75 86.7Z" fill="#1a1a1a"/>
<text x="501.5" y="89.9" class="lg">B0</text>
<path d="M483.9 97.6H497.9" stroke="#43963f" stroke-width="1.5"/>
<path d="M490.25 97.6L490.55 95.1H491.45L491.75 97.6Z" fill="#1a1a1a"/>
<text x="501.5" y="100.8" class="lg">B1</text>
<path d="M483.9 108.5H497.9" stroke="#9c2040" stroke-width="1.5"/>
<path d="M490.25 108.5L490.55 106.0H491.45L491.75 108.5Z" fill="#1a1a1a"/>
<text x="501.5" y="111.7" class="lg">B2</text>
<path d="M483.9 287.2H497.9" stroke="#26406a" stroke-width="1.5"/>
<path d="M490.25 287.2L490.55 284.7H491.45L491.75 287.2Z" fill="#1a1a1a"/>
<text x="501.5" y="290.4" class="lg">B0</text>
<path d="M483.9 298.1H497.9" stroke="#43963f" stroke-width="1.5"/>
<path d="M490.25 298.1L490.55 295.6H491.45L491.75 298.1Z" fill="#1a1a1a"/>
<text x="501.5" y="301.3" class="lg">B1</text>
<path d="M483.9 487.5H497.9" stroke="#43963f" stroke-width="1.5"/>
<path d="M490.25 487.5L490.55 485.0H491.45L491.75 487.5Z" fill="#1a1a1a"/>
<text x="501.5" y="490.7" class="lg">B1</text>
<path d="M483.9 498.6H497.9" stroke="#9c2040" stroke-width="1.5"/>
<path d="M490.25 498.6L490.55 496.1H491.45L491.75 498.6Z" fill="#1a1a1a"/>
<text x="501.5" y="501.8" class="lg">B2</text>
</svg>
</body></html>
